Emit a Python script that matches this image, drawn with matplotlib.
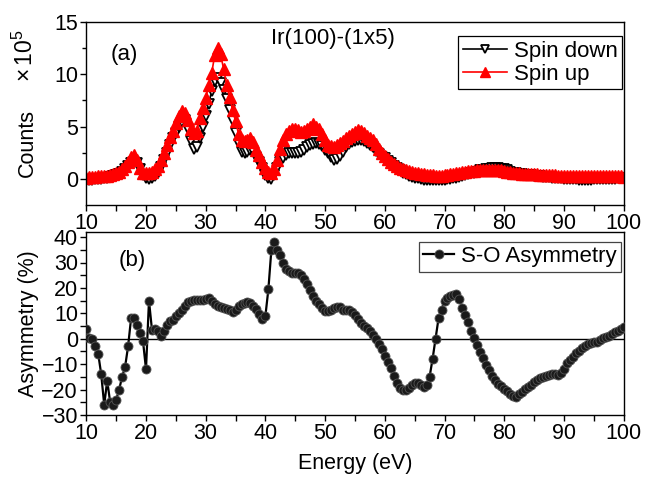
import numpy as np
import matplotlib
matplotlib.use("Agg")
import matplotlib.pyplot as plt

plt.rcParams['font.family'] = ['Liberation Sans', 'DejaVu Sans']
plt.rcParams['mathtext.fontset'] = 'custom'
plt.rcParams['mathtext.rm'] = 'Liberation Sans'
plt.rcParams['mathtext.it'] = 'Liberation Sans:italic'

energy = np.arange(10.0, 100.01, 0.5)

spin_up = [
    0.1, 0.15, 0.2, 0.2, 0.25, 0.25, 0.3, 0.3, 0.35, 0.45,
    0.55, 0.7, 0.9, 1.2, 1.6, 2.1, 2.3, 1.8, 1.0, 0.6,
    0.55, 0.6, 0.7, 0.9, 1.2, 1.8, 2.5, 3.2, 4.0, 4.6,
    5.3, 6.0, 6.5, 6.3, 5.6, 4.8, 4.4, 4.6, 5.8, 6.8,
    7.7, 9.0, 10.1, 11.8, 12.5, 11.9, 10.5, 9.0, 7.8, 6.6,
    5.5, 4.3, 3.7, 3.6, 3.7, 3.9, 3.5, 2.8, 2.3, 1.6,
    1.0, 0.7, 0.55, 0.9, 1.8, 2.9, 3.7, 4.3, 4.6, 4.8,
    4.8, 4.7, 4.5, 4.6, 4.8, 5.0, 5.2, 5.0, 4.8, 4.3,
    3.7, 3.2, 3.1, 3.0, 3.2, 3.4, 3.6, 3.9, 4.1, 4.3,
    4.5, 4.7, 4.6, 4.4, 4.1, 3.9, 3.7, 3.3, 2.9, 2.5,
    2.2, 1.9, 1.6, 1.4, 1.2, 1.05, 0.95, 0.86, 0.75, 0.65,
    0.6, 0.55, 0.5, 0.45, 0.4, 0.38, 0.35, 0.32, 0.3, 0.3,
    0.35, 0.4, 0.45, 0.5, 0.55, 0.6, 0.65, 0.7, 0.72, 0.75,
    0.77, 0.8, 0.82, 0.84, 0.86, 0.87, 0.88, 0.86, 0.84, 0.8,
    0.75, 0.7, 0.65, 0.6, 0.56, 0.53, 0.5, 0.48, 0.47, 0.45,
    0.43, 0.42, 0.4, 0.38, 0.36, 0.35, 0.34, 0.33, 0.32, 0.3,
    0.3, 0.3, 0.3, 0.3, 0.3, 0.3, 0.3, 0.3, 0.3, 0.3,
    0.3, 0.3, 0.28, 0.28, 0.27, 0.27, 0.26, 0.25, 0.25, 0.24, 0.22,
]

spin_down = [
    -0.1, -0.1, -0.1, -0.05, 0.0, 0.0, 0.05, 0.1, 0.15, 0.25,
    0.35, 0.5, 0.7, 0.95, 1.2, 1.5, 1.6, 1.5, 0.9, 0.4,
    0.1, 0.0, 0.1, 0.3, 0.6, 1.1, 1.8, 2.5, 3.2, 3.9,
    4.4, 5.0, 5.4, 5.6, 4.8, 3.6, 2.9, 3.0, 3.9, 5.0,
    6.0, 7.2, 8.4, 9.4, 9.6, 9.2, 8.5, 7.6, 6.6, 5.5,
    4.4, 3.3, 2.6, 2.5, 2.6, 2.8, 2.7, 2.1, 1.6, 1.0,
    0.4, 0.05, 0.0, 0.4, 1.0, 1.6, 2.0, 2.3, 2.5, 2.5,
    2.5, 2.5, 2.6, 2.8, 3.0, 3.2, 3.3, 3.4, 3.3, 3.1,
    2.8, 2.5, 2.1, 1.8, 1.9, 2.2, 2.6, 3.0, 3.3, 3.5,
    3.6, 3.7, 3.7, 3.6, 3.4, 3.2, 3.0, 2.7, 2.4, 2.1,
    2.0, 1.7, 1.5, 1.2, 1.0, 0.8, 0.6, 0.45, 0.3, 0.2,
    0.1, 0.05, 0.0, -0.1, -0.1, -0.1, -0.1, -0.1, -0.1, -0.1,
    -0.1, -0.05, 0.0, 0.05, 0.1, 0.2, 0.3, 0.4, 0.5, 0.55,
    0.6, 0.7, 0.8, 0.85, 0.9, 0.95, 1.0, 1.0, 1.0, 0.95,
    0.9, 0.8, 0.7, 0.6, 0.55, 0.5, 0.45, 0.4, 0.4, 0.35,
    0.3, 0.3, 0.25, 0.2, 0.2, 0.15, 0.1, 0.1, 0.05, 0.05,
    0.0, 0.0, 0.0, -0.05, -0.05, -0.1, -0.1, -0.1, -0.1, -0.1,
    -0.05, 0.0, 0.0, 0.0, 0.0, 0.0, 0.0, 0.0, 0.05, 0.05, 0.05,
]

asymmetry = [
    4, 0.3, 0, -3, -6, -14, -26, -16.5, -25, -26,
    -24, -20, -15, -11, -3, 8, 8, 5.5, 2.2, -1,
    -12, 15, 3.5, 3.8, 2.9, 1, 3, 5.5, 7, 7.5,
    9, 10, 11.5, 13, 14.5, 15, 15.3, 15.3, 15.2, 15.3,
    15.8, 16, 15, 13.5, 13, 12.5, 12, 11.6, 11.2, 10.6,
    11.5, 12.7, 13.6, 14.1, 14.3, 14, 12.8, 11.6, 9.8, 7.6,
    9, 19.5, 35, 38, 35, 33, 30, 27.5, 26.5, 26,
    26, 25.9, 25.2, 23.5, 21.5, 19.3, 16.7, 15, 13.5, 12,
    11, 10.8, 11.3, 12, 12.5, 12.3, 11.5, 11.3, 11.3, 10.5,
    9.4, 7.8, 6.3, 5.2, 4.1, 2.9, 1.5, 0, -2.2, -4.2,
    -6.6, -9, -11.5, -14.6, -17.4, -19.4, -20, -20, -19.2, -18,
    -17.3, -17.4, -18, -18.8, -18.2, -15, -8, 0, 8, 11.5,
    14.8, 16.2, 16.8, 17.3, 17.8, 15.8, 12, 9.2, 6.5, 3,
    0.2, -2.3, -5.2, -7.5, -10.5, -12.2, -14.5, -16.1, -17.7, -18.6,
    -19.6, -20.6, -21.6, -22.7, -23, -21.8, -20.9, -19.9, -18.8, -18,
    -17.1, -16.1, -15.4, -14.9, -14.5, -14.2, -13.9, -13.9, -14.1, -13.4,
    -11.8, -9.6, -8.4, -7.1, -5.8, -4.8, -3.7, -2.8, -2.2, -1.8,
    -1.4, -1.1, -0.5, 0.1, 0.5, 1.1, 2, 2.5, 3, 3.8, 4.5,
]

x_ticks = [10, 20, 30, 40, 50, 60, 70, 80, 90, 100]
top_yticks = [0, 5, 10, 15]
bot_yticks = [-30, -20, -10, 0, 10, 20, 30, 40]

W, H = 649, 478
fig = plt.figure(figsize=(W / 100, H / 100), dpi=100)

def frac(l, t, r, b):
    return [l / W, 1 - b / H, (r - l) / W, (b - t) / H]

ax1 = fig.add_axes(frac(86.3, 22, 623.6, 205))
ax2 = fig.add_axes(frac(86.3, 232, 623.6, 415))

FS = 15.5

for ax in (ax1, ax2):
    for s in ax.spines.values():
        s.set_linewidth(1.0)
    ax.set_xlim(10, 100)
    ax.set_xticks(x_ticks)
    ax.set_xticks(np.arange(15, 100, 10), minor=True)
    ax.tick_params(axis='both', which='both', direction='out', labelsize=FS,
                   width=1.0, pad=1.5)
    ax.tick_params(axis='both', which='major', length=4.5)
    ax.tick_params(axis='both', which='minor', length=4.0)

# Top panel
ax1.plot(energy, spin_down, color='black', lw=1.2, marker='v', markersize=7.5,
         markerfacecolor='white', markeredgecolor='black', markeredgewidth=1.3,
         label='Spin down')
ax1.plot(energy, spin_up, color='red', lw=1.2, marker='^', markersize=8,
         markerfacecolor='red', markeredgecolor='red', label='Spin up')
ax1.set_ylim(-2.5, 15)
ax1.set_yticks(top_yticks)
ax1.set_yticks([2.5, 7.5, 12.5], minor=True)
ax1.tick_params(axis='y', which='minor', length=3)
ax1.text(0.045, 0.82, '(a)', transform=ax1.transAxes, fontsize=FS + 0.5,
         va='center', ha='left')
ax1.text(0.343, 0.91, 'Ir(100)-(1x5)', transform=ax1.transAxes, fontsize=FS + 0.5,
         va='center', ha='left')
leg1 = ax1.legend(loc='upper right', bbox_to_anchor=(0.997, 0.923),
                  fontsize=FS + 0.5, frameon=True, fancybox=False,
                  edgecolor='black', framealpha=1, borderaxespad=0,
                  handlelength=2.0, handletextpad=0.3, borderpad=0.2,
                  labelspacing=0.1, markerscale=0.85)
leg1.get_frame().set_linewidth(0.9)

fig.text(27 / W, 1 - 143 / H, 'Counts', rotation=90, fontsize=FS,
         ha='center', va='center')
fig.text(25 / W, 1 - 56 / H, r'$\times\,10^5$', rotation=90, fontsize=FS + 1,
         ha='center', va='center')

# Bottom panel
ax2.axhline(0, color='black', lw=1.0, zorder=1)
ax2.plot(energy, asymmetry, color='black', lw=1.6, marker='o', markersize=6.5,
         markerfacecolor='#1a1a1a', markeredgecolor='#555555',
         markeredgewidth=0.6, label='S-O Asymmetry', zorder=3)
ax2.set_ylim(-30, 42)
ax2.set_yticks(bot_yticks)
ax2.set_yticks(np.arange(-25, 41, 10), minor=True)
ax2.text(0.06, 0.845, '(b)', transform=ax2.transAxes, fontsize=FS + 0.5,
         va='center', ha='left')
leg2 = ax2.legend(loc='upper right', bbox_to_anchor=(0.995, 0.947),
                  fontsize=FS + 0.5, frameon=True, fancybox=False,
                  edgecolor='#444444', framealpha=1, borderaxespad=0,
                  handlelength=1.4, handletextpad=0.3, borderpad=0.2)
leg2.get_frame().set_linewidth(0.9)
ax2.set_xlabel('Energy (eV)', fontsize=FS, labelpad=6)
ax2.set_ylabel('Asymmetry (%)', fontsize=FS, labelpad=2)

fig.savefig('out.png', dpi=100)
